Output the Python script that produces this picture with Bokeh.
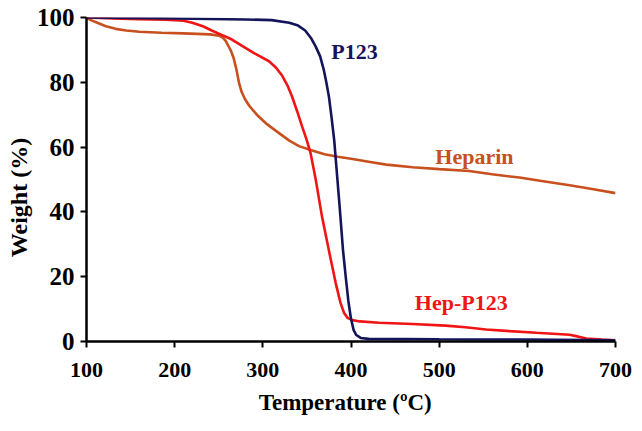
from bokeh.plotting import figure
from bokeh.embed import file_html
from bokeh.resources import INLINE
from bokeh.models import Range1d, FixedTicker
from bokeh.core.properties import value

# P123
p123_t = [100, 200, 280, 310, 330, 340, 348, 355, 360, 365, 369, 372, 375, 378, 381, 384, 387,
          391, 394, 397, 400, 403, 406, 411, 420, 500, 600, 700]
p123_w = [100, 99.7, 99.4, 99.2, 98.4, 97.5, 96, 93.5, 91, 88, 84, 80, 75.5, 69, 62, 52, 42,
          28, 20, 12.5, 7, 3.5, 2, 1.1, 0.8, 0.7, 0.6, 0.4]

# Heparin
hep_t = [100, 105, 113, 122, 133, 145, 160, 185, 210, 240, 250, 255, 258, 261, 264, 267, 270,
         273, 276, 280, 285, 290, 295, 305, 318, 330, 341, 355, 370, 385, 400, 420, 440, 470,
         500, 534, 560, 591, 620, 648, 675, 700]
hep_w = [100, 99.2, 98.3, 97.3, 96.5, 96, 95.6, 95.3, 95.1, 94.8, 94.4, 93.7, 92.7, 91.2, 89.6,
         87.4, 84, 79.8, 77, 74.7, 72.6, 71, 69.5, 67, 64.4, 62, 60.3, 59, 57.8, 57, 56.4,
         55.5, 54.6, 53.8, 53.2, 52.6, 51.6, 50.6, 49.4, 48.2, 47, 45.8]

# Hep-P123
hp_t = [100, 130, 160, 190, 210, 220, 232, 242, 252, 265, 276, 290, 307, 315, 322, 328, 333,
        339, 344.5, 350, 354, 360, 367, 375, 382.6, 388, 392, 396, 401.5, 410, 432, 470, 507,
        530, 553, 580, 610, 648, 658, 667, 685, 700]
hp_w = [100, 99.7, 99.5, 99.3, 99, 98.4, 97.3, 96, 94.8, 93.2, 91.3, 89, 86.5, 84.5, 82, 79,
        75.7, 71, 66.4, 62, 58.3, 50, 38.7, 28, 18.1, 12, 8.9, 7.3, 6.6, 6.2, 5.8, 5.4, 4.9,
        4.4, 3.7, 3.2, 2.7, 2.1, 1.5, 0.9, 0.6, 0.4]

x_ticks = [100, 200, 300, 400, 500, 600, 700]
y_ticks = [0, 20, 40, 60, 80, 100]

label_text = ["P123", "Heparin", "Hep-P123"]
label_x = [404, 540, 525]
label_y = [89.5, 57.1, 12]
label_color = ["#14145a", "#c8501e", "#f01414"]

FONT = "Liberation Serif"
NB = "\u00a0"

p = figure(width=636, height=425, output_backend="svg", toolbar_location=None,
           x_range=Range1d(100, 700), y_range=Range1d(0, 100),
           min_border_left=86, min_border_right=21, min_border_top=17, min_border_bottom=84)
p.outline_line_color = None
p.xgrid.visible = False
p.ygrid.visible = False
p.background_fill_color = "white"

p.line(hep_t, hep_w, line_color="#c8501e", line_width=2.6)
p.line(hp_t, hp_w, line_color="#f01414", line_width=2.6)
p.line(p123_t, p123_w, line_color="#14145a", line_width=2.6)

p.text(x=label_x, y=label_y, text=label_text, text_color=label_color,
       text_font=value(FONT), text_font_style="bold", text_font_size="22px",
       text_align="center", text_baseline="alphabetic")

for ax in (p.xaxis[0], p.yaxis[0]):
    ax.axis_line_width = 2.5
    ax.axis_line_color = "black"
    ax.major_tick_line_width = 2
    ax.major_tick_line_color = "black"
    ax.major_tick_in = 0
    ax.major_tick_out = 6
    ax.minor_tick_line_color = None
    ax.major_label_text_font = FONT
    ax.major_label_text_font_style = "bold"
    ax.major_label_text_color = "black"
    ax.axis_label_text_font = FONT
    ax.axis_label_text_font_style = "bold"
    ax.axis_label_text_color = "black"

p.xaxis[0].major_label_text_font_size = "22px"
p.yaxis[0].major_label_text_font_size = "25px"
p.xaxis[0].axis_label_text_font_size = "23px"
p.yaxis[0].axis_label_text_font_size = "24px"
p.xaxis[0].ticker = FixedTicker(ticks=x_ticks)
p.yaxis[0].ticker = FixedTicker(ticks=y_ticks)
p.xaxis[0].axis_label = "Temperature (\u00baC)" + NB * 2
p.yaxis[0].axis_label = "Weight (%)" + NB * 6
p.xaxis[0].major_label_standoff = 15
p.yaxis[0].major_label_standoff = 6
p.xaxis[0].axis_label_standoff = 10
p.yaxis[0].axis_label_standoff = 2

open("out.html", "w").write(file_html(p, INLINE))
